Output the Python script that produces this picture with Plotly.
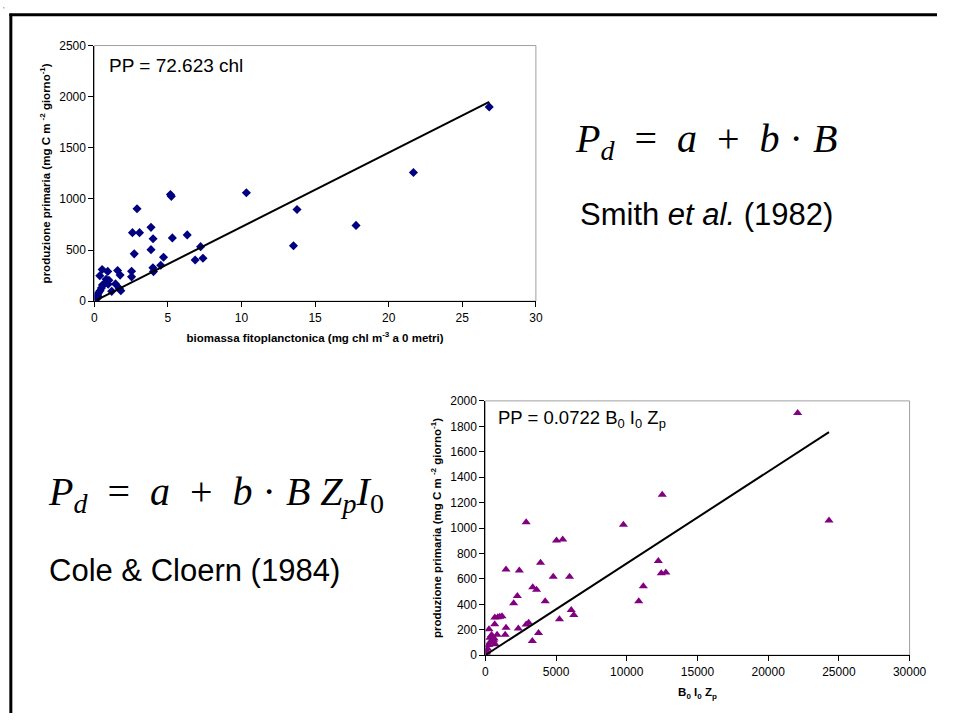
import plotly.graph_objects as go

# ---- data: Smith et al. (1982) ----
chl = [26.83, 21.68, 17.78, 13.77, 13.53, 10.33, 5.17, 5.23, 5.30, 6.31, 7.22, 7.38, 6.85,
       4.70, 4.51, 3.98, 4.02, 3.99, 3.85, 3.85, 2.90, 3.07, 2.59, 2.71, 2.53, 2.53, 1.58,
       1.75, 1.44, 1.70, 1.80, 1.18, 0.91, 0.53, 0.37, 0.80, 0.99, 0.94, 0.67, 0.55, 0.48,
       0.39, 0.29, 0.22, 0.28, 0.18]
pp_chl = [1900, 1258, 741, 896, 542, 1060, 1042, 1025, 619, 648, 533, 420, 403,
          430, 351, 327, 289, 610, 722, 504, 904, 670, 670, 463, 293, 238, 300,
          255, 169, 125, 102, 96, 291, 310, 248, 214, 204, 165, 169, 158, 128,
          102, 82, 62, 43, 26]
coef_chl = 72.623

# ---- data: Cole & Cloern (1984) ----
bizp = [22086, 24300, 12508, 9762, 12231, 12439, 12762, 11170, 10847, 2885, 5031, 5470,
        3900, 4800, 5954, 1460, 2400, 3350, 3620, 2260, 2000, 4230, 6070, 6254, 5239,
        2885, 3060, 2330, 1460, 1400, 3760, 3320, 254, 660, 669, 877, 1015, 1177, 830,
        438, 508, 577, 346, 554, 692, 231, 162, 92, 46, 323, 620]
pp_bizp = [1905, 1059, 1262, 1026, 740, 645, 650, 542, 424, 1046, 902, 910,
           727, 617, 617, 673, 666, 535, 514, 465, 409, 424, 355, 316, 283,
           242, 255, 210, 216, 160, 175, 111, 203, 244, 296, 298, 303, 306, 160,
           159, 144, 118, 103, 98, 85, 80, 51, 28, 18, 136, 130]
coef_bizp = 0.0722

W, H = 954, 720
FONT = "Liberation Sans, Arial, sans-serif"
SERIF = "Liberation Serif, Times New Roman, serif"

fig = go.Figure()

fig.add_trace(go.Scatter(x=chl, y=pp_chl, mode="markers", xaxis="x", yaxis="y",
                         marker=dict(symbol="diamond", size=7, color="#000080"),
                         showlegend=False))
xl = [min(chl), max(chl)]
fig.add_trace(go.Scatter(x=xl, y=[coef_chl * v for v in xl], mode="lines", xaxis="x", yaxis="y",
                         line=dict(color="black", width=2), showlegend=False))

fig.add_trace(go.Scatter(x=bizp, y=pp_bizp, mode="markers", xaxis="x2", yaxis="y2",
                         marker=dict(symbol="triangle-up", size=8, color="#800080"),
                         showlegend=False))
xl2 = [min(bizp), max(bizp)]
fig.add_trace(go.Scatter(x=xl2, y=[coef_bizp * v for v in xl2], mode="lines", xaxis="x2", yaxis="y2",
                         line=dict(color="black", width=2), showlegend=False))

def px_x(p):
    return p / W

def px_y(p):
    return 1 - p / H

axis_common = dict(showline=True, linecolor="black", linewidth=1, ticks="outside",
                   ticklen=5, tickcolor="black", showgrid=False, zeroline=False,
                   tickfont=dict(family=FONT, size=12, color="black"), tickformat="d")
title_font = dict(family=FONT, size=11.5, color="black", weight="bold")

fig.update_layout(
    width=W, height=H, margin=dict(l=0, r=0, t=0, b=0),
    paper_bgcolor="white", plot_bgcolor="white",
    xaxis=dict(domain=[px_x(93.3), px_x(544.3)], range=[0, 30], dtick=5, anchor="y",
               title=dict(text="biomassa fitoplanctonica (mg chl m<sup>-3</sup> a 0 metri)",
                          font=title_font, standoff=10),
               **axis_common),
    yaxis=dict(domain=[px_y(300), px_y(39.3)], range=[0, 2500], dtick=500, anchor="x",
               title=dict(text="produzione primaria (mg C m <sup>-2</sup> giorno<sup>-1</sup>)",
                          font=title_font, standoff=6),
               **axis_common),
    xaxis2=dict(domain=[px_x(492.7), px_x(926)], range=[0, 30000], dtick=5000, anchor="y2",
                title=dict(text="B<sub>0</sub> I<sub>0</sub> Z<sub>p</sub>",
                           font=title_font, standoff=10),
                **axis_common),
    yaxis2=dict(domain=[px_y(661), px_y(401.7)], range=[0, 2000], dtick=200, anchor="x2",
                title=dict(text="produzione primaria (mg C m <sup>-2</sup> giorno<sup>-1</sup>)",
                           font=title_font, standoff=6),
                **axis_common),
)

shapes = [
    dict(type="rect", xref="x domain", yref="y domain", x0=0, x1=1, y0=0, y1=1,
         line=dict(color="#a0a0a0", width=1), layer="below"),
    dict(type="rect", xref="x2 domain", yref="y2 domain", x0=0, x1=1, y0=0, y1=1,
         line=dict(color="#a0a0a0", width=1), layer="below"),
    # slide frame (left and top edges)
    dict(type="line", xref="paper", yref="paper", x0=px_x(8), x1=px_x(8), y0=0, y1=px_y(7),
         line=dict(color="black", width=3)),
    dict(type="line", xref="paper", yref="paper", x0=px_x(6.5), x1=1, y0=px_y(8), y1=px_y(8),
         line=dict(color="black", width=3)),
    # tiny corner mark so the picture keeps the full page extent
    dict(type="rect", xref="paper", yref="paper", x0=0, x1=px_x(1.5), y0=px_y(1.5), y1=1,
         line=dict(width=0), fillcolor="#b0b0b0"),
]
fig.update_layout(shapes=shapes)

annotations = [
    dict(text="PP = 72.623 chl", xref="x domain", yref="y domain", x=0.028, y=0.97,
         xanchor="left", yanchor="top", showarrow=False,
         font=dict(family=FONT, size=19, color="black")),
    dict(text="PP = 0.0722 B<sub>0</sub> I<sub>0</sub> Z<sub>p</sub>", xref="x2 domain", yref="y2 domain",
         x=0.025, y=0.985, xanchor="left", yanchor="top", showarrow=False,
         font=dict(family=FONT, size=18.5, color="black")),
    dict(text="<i>P</i><sub><i>d</i></sub>  =  <i>a</i>  +  <i>b</i> · <i>B</i>",
         xref="paper", yref="paper", x=px_x(582), y=px_y(137), xanchor="left", yanchor="middle",
         showarrow=False, font=dict(family=SERIF, size=40, color="black")),
    dict(text="Smith <i>et al.</i> (1982)", xref="paper", yref="paper", x=px_x(587), y=px_y(212),
         xanchor="left", yanchor="middle", showarrow=False,
         font=dict(family=FONT, size=31, color="black")),
    dict(text="<i>P</i><sub><i>d</i></sub>  =  <i>a</i>  +  <i>b</i> · <i>B</i> <i>Z</i><sub><i>p</i></sub><i>I</i><sub>0</sub>",
         xref="paper", yref="paper", x=px_x(44), y=px_y(497), xanchor="left", yanchor="middle",
         showarrow=False, font=dict(family=SERIF, size=40, color="black")),
    dict(text="Cole &amp; Cloern (1984)", xref="paper", yref="paper", x=px_x(45), y=px_y(575),
         xanchor="left", yanchor="middle", showarrow=False,
         font=dict(family=FONT, size=31, color="black")),
]
fig.update_layout(annotations=annotations)

fig.write_html("out.html")
